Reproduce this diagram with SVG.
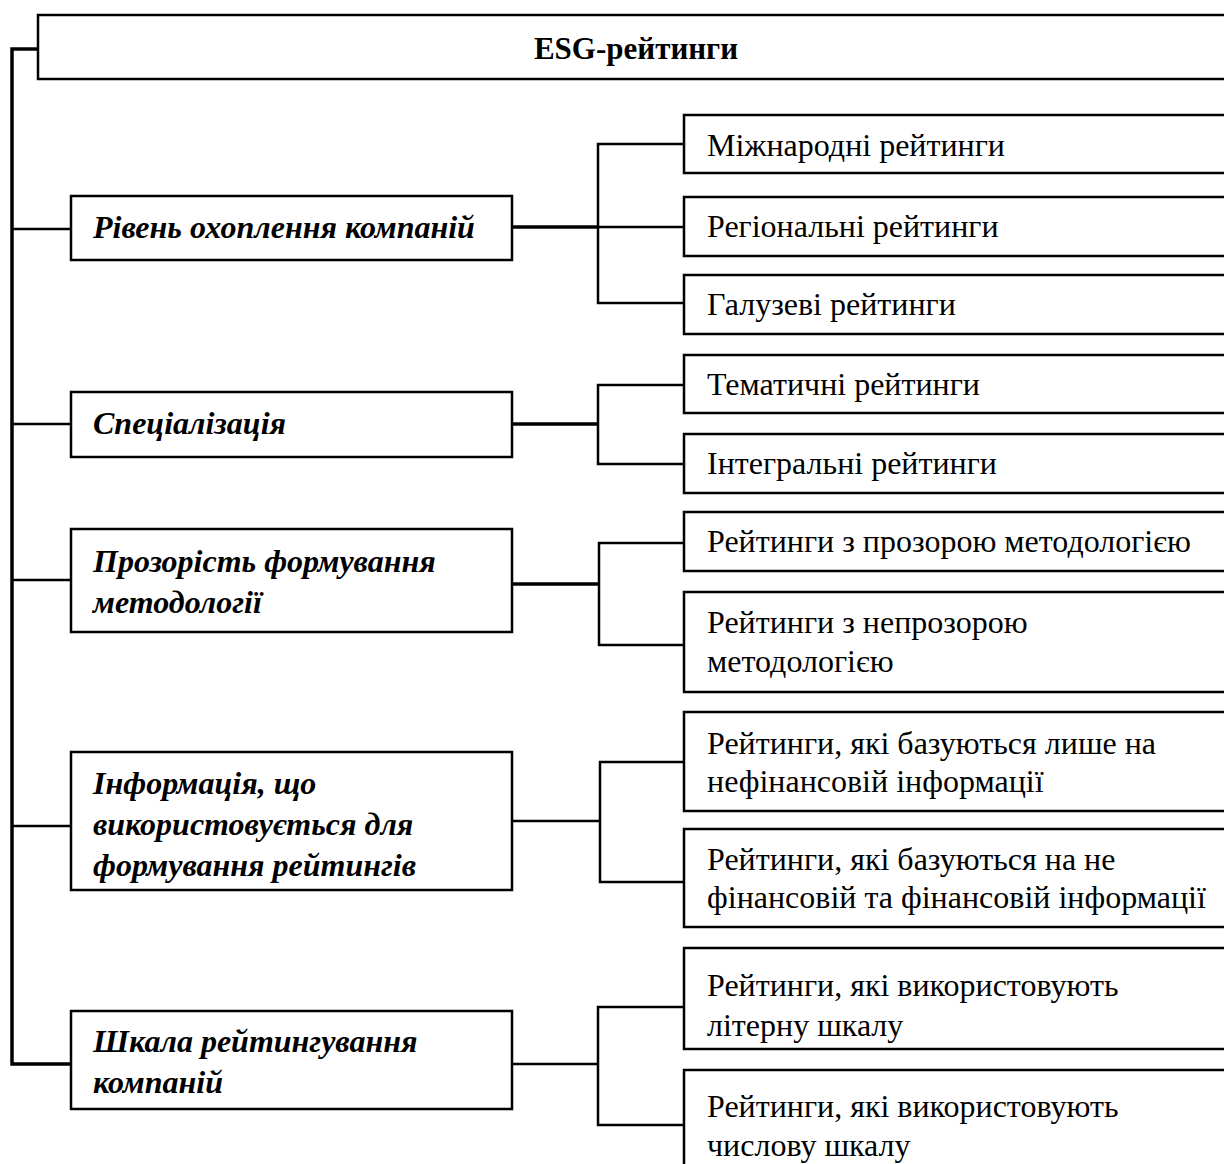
<svg xmlns="http://www.w3.org/2000/svg" width="1224" height="1164" viewBox="0 0 1224 1164">
<style>
.box{fill:#fff;stroke:#000;stroke-width:2.5}
.ln{fill:none;stroke:#000;stroke-width:2.5}
.tk{fill:none;stroke:#000;stroke-width:3.5}
.cat{font-family:"Liberation Serif","Times New Roman",serif;font-size:32px;font-weight:bold;font-style:italic;fill:#000}
.sub{font-family:"Liberation Serif","Times New Roman",serif;font-size:32px;fill:#000}
.ttl{font-family:"Liberation Serif","Times New Roman",serif;font-size:31px;font-weight:bold;fill:#000}
</style>
<rect width="1224" height="1164" fill="#fff"/>
<g id="connectors">
<polyline class="tk" points="38,49 12,49 12,1064 71,1064"/>
<line class="ln" x1="12" y1="229" x2="71" y2="229"/>
<line class="ln" x1="12" y1="424" x2="71" y2="424"/>
<line class="ln" x1="12" y1="580" x2="71" y2="580"/>
<line class="ln" x1="12" y1="826" x2="71" y2="826"/>
<line class="tk" x1="512" y1="227" x2="598" y2="227"/>
<polyline class="ln" points="684,144 598,144 598,303 684,303"/>
<line class="ln" x1="598" y1="227" x2="684" y2="227"/>
<line class="tk" x1="512" y1="424" x2="598" y2="424"/>
<polyline class="ln" points="684,385 598,385 598,464 684,464"/>
<line class="tk" x1="512" y1="584" x2="599" y2="584"/>
<polyline class="ln" points="684,543 599,543 599,645 684,645"/>
<line class="ln" x1="512" y1="821" x2="600" y2="821"/>
<polyline class="ln" points="684,762 600,762 600,882 684,882"/>
<line class="ln" x1="512" y1="1064" x2="598" y2="1064"/>
<polyline class="ln" points="684,1007 598,1007 598,1125 684,1125"/>
</g>
<g id="n-root"><rect class="box" x="38" y="15" width="1200" height="64"/><text class="ttl" x="636" y="59" text-anchor="middle">ESG-рейтинги</text></g>
<g id="n-c1"><rect class="box" x="71" y="196" width="441" height="64"/><text class="cat" x="93" y="238">Рівень охоплення компаній</text></g>
<g id="n-c2"><rect class="box" x="71" y="392" width="441" height="65"/><text class="cat" x="93" y="434">Спеціалізація</text></g>
<g id="n-c3"><rect class="box" x="71" y="529" width="441" height="103"/><text class="cat" x="93" y="572">Прозорість формування</text><text class="cat" x="93" y="613">методології</text></g>
<g id="n-c4"><rect class="box" x="71" y="752" width="441" height="138"/><text class="cat" x="93" y="794">Інформація, що</text><text class="cat" x="93" y="835">використовується для</text><text class="cat" x="93" y="876">формування рейтингів</text></g>
<g id="n-c5"><rect class="box" x="71" y="1011" width="441" height="98"/><text class="cat" x="93" y="1052">Шкала рейтингування</text><text class="cat" x="93" y="1093">компаній</text></g>
<g id="n-s1"><rect class="box" x="684" y="115" width="560" height="58"/><text class="sub" x="707" y="156">Міжнародні рейтинги</text></g>
<g id="n-s2"><rect class="box" x="684" y="197" width="560" height="59"/><text class="sub" x="707" y="237">Регіональні рейтинги</text></g>
<g id="n-s3"><rect class="box" x="684" y="275" width="560" height="59"/><text class="sub" x="707" y="315">Галузеві рейтинги</text></g>
<g id="n-s4"><rect class="box" x="684" y="355" width="560" height="58"/><text class="sub" x="707" y="395">Тематичні рейтинги</text></g>
<g id="n-s5"><rect class="box" x="684" y="434" width="560" height="59"/><text class="sub" x="707" y="474">Інтегральні рейтинги</text></g>
<g id="n-s6"><rect class="box" x="684" y="512" width="560" height="59"/><text class="sub" x="707" y="552">Рейтинги з прозорою методологією</text></g>
<g id="n-s7"><rect class="box" x="684" y="592" width="560" height="100"/><text class="sub" x="707" y="633">Рейтинги з непрозорою</text><text class="sub" x="707" y="672">методологією</text></g>
<g id="n-s8"><rect class="box" x="684" y="712" width="560" height="99"/><text class="sub" x="707" y="754">Рейтинги, які базуються лише на</text><text class="sub" x="707" y="792">нефінансовій інформації</text></g>
<g id="n-s9"><rect class="box" x="684" y="829" width="560" height="98"/><text class="sub" x="707" y="870">Рейтинги, які базуються на не</text><text class="sub" x="707" y="908">фінансовій та фінансовій інформації</text></g>
<g id="n-s10"><rect class="box" x="684" y="948" width="560" height="101"/><text class="sub" x="707" y="996">Рейтинги, які використовують</text><text class="sub" x="707" y="1036">літерну шкалу</text></g>
<g id="n-s11"><rect class="box" x="684" y="1070" width="560" height="110"/><text class="sub" x="707" y="1117">Рейтинги, які використовують</text><text class="sub" x="707" y="1156">числову шкалу</text></g>
</svg>
